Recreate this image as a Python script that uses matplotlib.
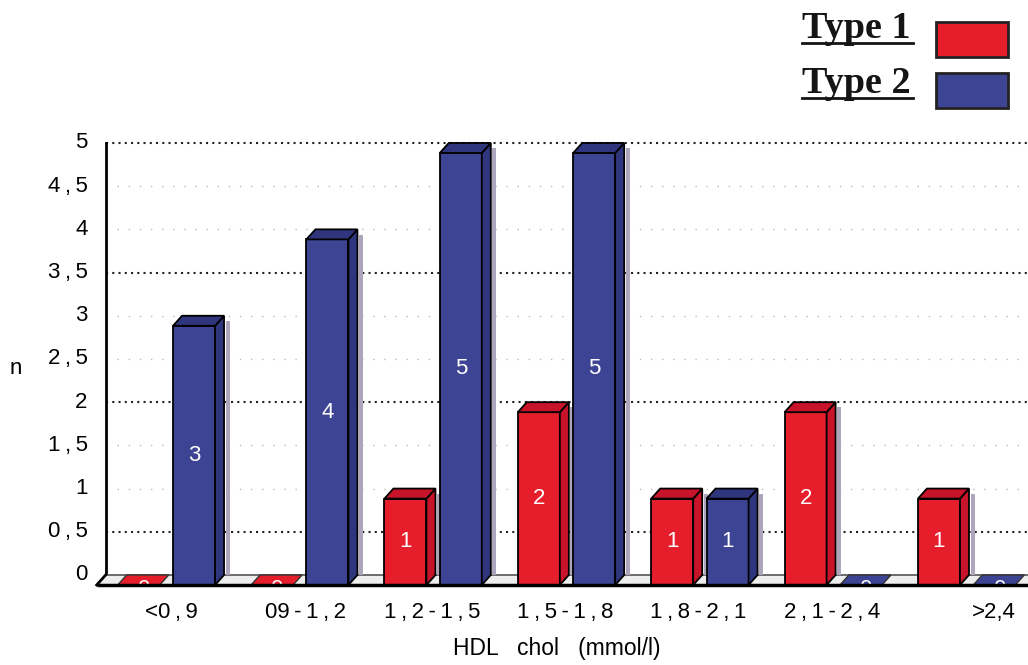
import matplotlib.pyplot as plt
from matplotlib.patches import Polygon, Rectangle
from matplotlib.lines import Line2D

# HDL cholesterol classes and patient counts per diabetes type
T = "\u2009"
classes = ["<0" + T + "," + T + "9", "09" + T + "-" + T + "1" + T + "," + T + "2",
           "1" + T + "," + T + "2" + T + "-" + T + "1" + T + "," + T + "5",
           "1" + T + "," + T + "5" + T + "-" + T + "1" + T + "," + T + "8",
           "1" + T + "," + T + "8" + T + "-" + T + "2" + T + "," + T + "1",
           "2" + T + "," + T + "1" + T + "-" + T + "2" + T + "," + T + "4", ">2,4"]
type1 = [0, 0, 1, 2, 1, 2, 1]
type2 = [3, 4, 5, 5, 1, 0, 0]
yticks = [0, 0.5, 1, 1.5, 2, 2.5, 3, 3.5, 4, 4.5, 5]
ytick_labels = ["0", "0" + T + "," + T + "5", "1", "1" + T + "," + T + "5", "2", "2" + T + "," + T + "5",
                "3", "3" + T + "," + T + "5", "4", "4" + T + "," + T + "5", "5"]

RED, RED_SIDE = "#E61E2C", "#C8142A"
BLUE, BLUE_SIDE = "#3D4494", "#30367E"
SANS = ["Liberation Sans", "DejaVu Sans"]
FS = 16

# 3D look: bar width and oblique depth in data units
W, DX, DY = 0.315, 0.0675, 0.116
WALL = -0.495
XMAX = 6.42

fig = plt.figure(figsize=(10.28, 6.65), dpi=100)
ax = fig.add_axes([89 / 1028, 0.0964, 1 - 89 / 1028, 0.7406])
ax.set_xlim(-0.62, XMAX)
ax.set_ylim(-0.3, 5.4)
ax.axis("off")

# gridlines on the back wall
for y in yticks[1:]:
    if y in (0.5, 2, 3.5, 5):
        ax.plot([WALL, XMAX], [y, y], color="#222222", lw=1.5, ls=(0, (1, 2)), zorder=1)
    else:
        ax.plot([WALL, XMAX], [y, y], color="#BBBBBB", lw=1.0, ls=(0, (1, 7)), zorder=1)

# left wall and floor
ax.plot([WALL, WALL], [0, 5], color="black", lw=2, zorder=2)
floor = Polygon([(WALL, 0), (XMAX + 0.2, 0), (XMAX + 0.2, -DY), (WALL - DX, -DY)],
                closed=True, facecolor="#EDEDED", edgecolor="none", zorder=2)
ax.add_patch(floor)
ax.plot([WALL, XMAX], [0, 0], color="#555555", lw=1.2, zorder=2)
ax.plot([WALL - DX, XMAX], [-DY, -DY], color="black", lw=2.5, zorder=6, solid_capstyle="butt")
ax.plot([WALL - DX, WALL], [-DY, 0], color="black", lw=2, zorder=6)

for y, lab in zip(yticks, ytick_labels):
    ax.text(-0.63, y, lab, ha="right", va="center", fontsize=FS, family=SANS)


def bar3d(left, v, face, side):
    if v == 0:
        slab = Polygon([(left, -DY), (left + DX, 0), (left + W + DX, 0), (left + W, -DY)],
                       closed=True, facecolor=face, edgecolor="#333333", lw=1.0, zorder=4)
        ax.add_patch(slab)
        t = ax.text(left + W / 2 + DX / 2, -DY - 0.05, "0", color="white", ha="center",
                    va="center", fontsize=FS, family=SANS, zorder=5)
        t.set_clip_path(slab)
        return
    # light shadow strip on the wall behind the bar
    ax.add_patch(Rectangle((left + W + DX + 0.012, 0), 0.03, v - 0.06,
                           facecolor="#ADA5BC", edgecolor="none", zorder=3))
    ax.add_patch(Rectangle((left, -DY), W, v, facecolor=face, edgecolor="black", lw=1.3, zorder=4))
    ax.add_patch(Polygon([(left + W, -DY), (left + W + DX, 0), (left + W + DX, v), (left + W, v - DY)],
                         closed=True, facecolor=side, edgecolor="black", lw=1.3, zorder=4))
    ax.add_patch(Polygon([(left, v - DY), (left + DX, v), (left + W + DX, v), (left + W, v - DY)],
                         closed=True, facecolor=side, edgecolor="black", lw=1.3, zorder=4))
    ax.text(left + W / 2, v / 2 - DY, str(v), color="white", ha="center", va="center",
            fontsize=FS, family=SANS, zorder=5)


label_shift = [0.0, 0.0, -0.05, -0.05, -0.05, -0.05, 0.16]
for i in range(len(classes)):
    bar3d(i - 0.405, type1[i], RED, RED_SIDE)
    bar3d(i + 0.01, type2[i], BLUE, BLUE_SIDE)
    ax.text(i + label_shift[i], -0.43, classes[i], ha="center", va="center",
            fontsize=FS, family=SANS)

fig.text(16 / 1028, 1 - 368 / 665, "n", ha="center", va="center", fontsize=FS, family=SANS)
fig.text(557 / 1028, 1 - 648 / 665, "HDL   chol   (mmol/l)", ha="center", va="center",
         fontsize=16.5, family=SANS)

# legend drawn by hand: underlined serif captions with colour boxes
for name, color, base, box_y in [("Type 1", RED, 38, 22), ("Type 2", BLUE, 93, 73)]:
    fig.text(802 / 1028, 1 - base / 665, name, ha="left", va="baseline", fontsize=27.5,
             family=["Liberation Serif", "DejaVu Serif"], weight="bold", color="#151515")
    fig.add_artist(Line2D([802 / 1028, 913 / 1028], [1 - (base + 5) / 665] * 2,
                          color="#151515", lw=2))
    fig.add_artist(Rectangle((936 / 1028, 1 - (box_y + 35) / 665), 72 / 1028, 35 / 665,
                             facecolor=color, edgecolor="#222222", lw=2,
                             transform=fig.transFigure))

fig.savefig("out.png", dpi=100)
